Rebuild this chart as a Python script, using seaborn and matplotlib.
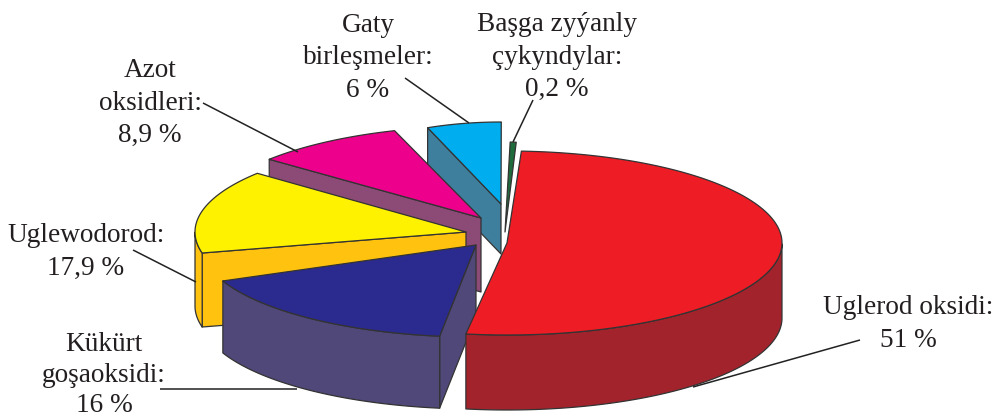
import numpy as np
import matplotlib
matplotlib.use("Agg")
import matplotlib.pyplot as plt
from matplotlib.patches import Polygon
import seaborn as sns

# data
names = ["Uglerod oksidi", "Kükürt goşaoksidi", "Uglewodorod", "Azot oksidleri", "Gaty birleşmeler", "Başga zyýanly çykyndylar"]
values = [51, 16, 17.9, 8.9, 6, 0.2]
labels = ["Uglerod oksidi:\n51 %", "Kükürt\ngoşaoksidi:\n16 %", "Uglewodorod:\n17,9 %",
          "Azot\noksidleri:\n8,9 %", "Gaty\nbirleşmeler:\n6 %", "Başga zyýanly\nçykyndylar:\n0,2 %"]

# styling
top_colors = ["#EE1C25", "#2B2A8F", "#FFF200", "#EC008C", "#00AEEF", "#1E6B3C"]
wall_colors = ["#A3232C", "#4F4878", "#FFC20E", "#8C4A76", "#3F7F9E", "#14502C"]
top_pal = sns.color_palette(top_colors)
wall_pal = sns.color_palette(wall_colors)
START = 86.0
apex_x = [507, 476, 466, 481, 501, 505]
apex_y = [243, 245, 232, 218, 204, 232]
semi_a = [275, 275, 271, 275, 200, 150]
semi_b = [92, 92, 92, 92, 82, 90]
depth = [75, 72, 74, 74, 50, 0]
shift_a = [1, 0, -11.6, 0, 3.2, 1.3]
shift_b = [-1, -1.8, 0, 0, 3.2, -0.3]
has_cut_face = [False, True, True, True, True, False]
draw_order = [4, 5, 3, 2, 1, 0]
text_x = [908, 104, 86, 150, 368, 557]
text_y = [324, 375, 252, 103, 58, 57]
text_spacing = [1.4, 1.3, 1.4, 1.4, 1.4, 1.4]
leaders = [((860, 340), (693, 387)), ((160, 389), (297, 389)), ((133, 250), (196, 282)),
           ((203, 103), (298, 152)), ((405, 78), (469, 123)), ((533, 100), (513, 142))]
EDGE = "#333333"

sns.set_style("white")
plt.rcParams["font.family"] = ["Liberation Serif", "DejaVu Serif"]
fig, ax = plt.subplots(figsize=(9.96, 4.2), dpi=100)
ax.set_position([0, 0, 1, 1])
ax.set_xlim(0, 996)
ax.set_ylim(420, 0)
ax.axis("off")

fractions = np.array(values, dtype=float) / np.sum(values) * 360.0
ends = np.cumsum(fractions)
starts = ends - fractions


def rim(i, th):
    th = np.radians(th)
    return np.column_stack([apex_x[i] + semi_a[i] * np.cos(th), apex_y[i] - semi_b[i] * np.sin(th)])


def poly(pts, color, z):
    ax.add_patch(Polygon(pts, closed=True, facecolor=color, edgecolor=EDGE, lw=0.9, joinstyle="round", zorder=z))


z = 2
for i in draw_order:
    t0 = START - starts[i] + shift_a[i]
    t1 = START - ends[i] + shift_b[i]
    angles = np.linspace(t0, t1, 200)
    arc = rim(i, angles)
    apex = np.array([apex_x[i], apex_y[i]], dtype=float)
    d = np.array([0, depth[i]], dtype=float)
    if has_cut_face[i]:
        edge_pt = arc[0]
        poly(np.array([apex, edge_pt, edge_pt + d, apex + d]), wall_pal[i], z)
    front = np.sin(np.radians(angles)) <= 0
    if front.any() and depth[i] > 0:
        seg = arc[front]
        poly(np.vstack([seg, (seg + d)[::-1]]), wall_pal[i], z + 0.1)
    poly(np.vstack([apex, arc]), top_pal[i], z + 0.2)
    z += 1

for (p0, p1) in leaders:
    ax.plot([p0[0], p1[0]], [p0[1], p1[1]], color="#222222", lw=1.1, zorder=20, solid_capstyle="butt")

for lab, x, y, sp in zip(labels, text_x, text_y, text_spacing):
    ax.text(x, y, lab, ha="center", va="center", fontsize=19.6, color="#231F20", linespacing=sp, zorder=21)

fig.savefig("out.png", dpi=100, facecolor="white")
